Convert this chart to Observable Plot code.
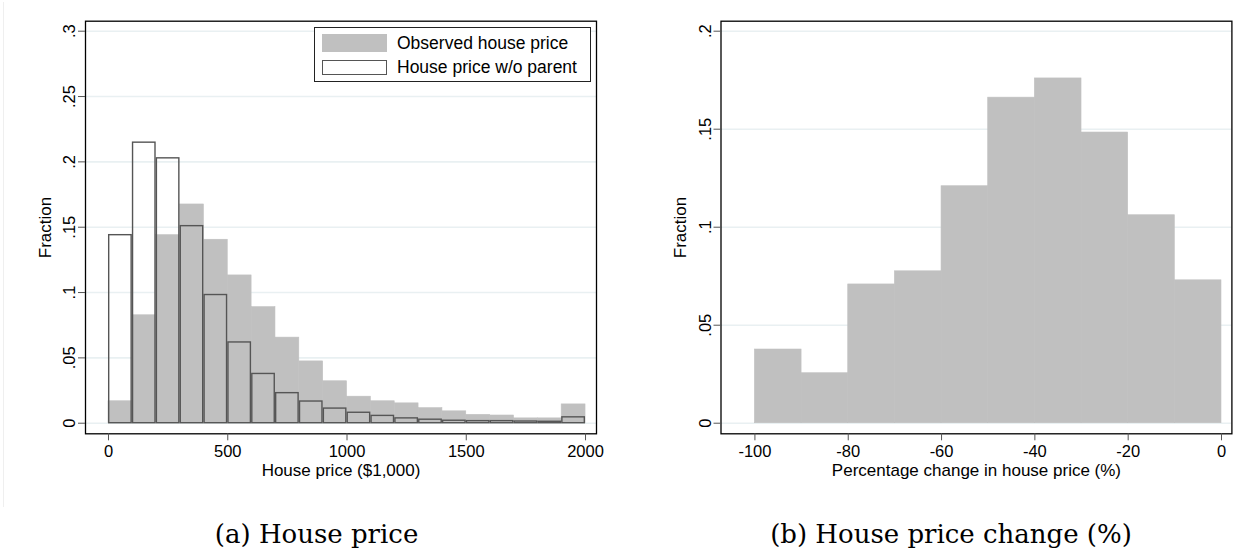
<!DOCTYPE html>
<html>
<head>
<meta charset="utf-8">
<script src="https://cdn.jsdelivr.net/npm/d3@7"></script>
<script src="https://cdn.jsdelivr.net/npm/@observablehq/plot@0.6"></script>
<style>
  html, body { margin: 0; padding: 0; background: #fff; }
  #root { position: relative; width: 1257px; height: 548px; overflow: hidden; background: #fff; }
  .panel { position: absolute; top: 0; }
  .legend { position: absolute; box-sizing: border-box; border: 1.2px solid #222; background: #fff;
            font-family: "Liberation Sans", Arial, sans-serif; font-size: 17.5px; color: #000; }
  .legend .sw { position: absolute; box-sizing: border-box; }
  .legend .lab { position: absolute; white-space: nowrap; line-height: 20px; }
  .caption { position: absolute; font-family: "DejaVu Serif", "Liberation Serif", serif; font-size: 26px;
             color: #000; white-space: nowrap; transform: translateX(-50%); line-height: 30px; }
  .edge { position: absolute; left: 3px; top: 2px; width: 1px; height: 505px; background: #efefef; }
</style>
</head>
<body>
<div id="root"></div>
<script>
// ---------- Panel (a): house price histograms ----------
const priceBinEdges = [0, 100, 200, 300, 400, 500, 600, 700, 800, 900, 1000,
                       1100, 1200, 1300, 1400, 1500, 1600, 1700, 1800, 1900, 2000];
const observedFraction = [0.0168, 0.0826, 0.1439, 0.1674, 0.1404, 0.1131, 0.0888, 0.0655, 0.0473, 0.0321,
                          0.0203, 0.0168, 0.0152, 0.0115, 0.0091, 0.0064, 0.0059, 0.0037, 0.0037, 0.0144];
const noParentFraction = [0.1439, 0.2147, 0.2027, 0.1508, 0.0981, 0.0618, 0.0377, 0.0230, 0.0166, 0.0112,
                          0.0080, 0.0056, 0.0037, 0.0027, 0.0019, 0.0016, 0.0016, 0.0013, 0.0011, 0.0045];
const priceXTicks = [0, 500, 1000, 1500, 2000];
const priceXTickLabels = ["0", "500", "1000", "1500", "2000"];
const priceYTicks = [0, 0.05, 0.1, 0.15, 0.2, 0.25, 0.3];
const priceYTickLabels = ["0", ".05", ".1", ".15", ".2", ".25", ".3"];
const priceXTitle = "House price ($1,000)";
const legendLabels = ["Observed house price", "House price w/o parent"];
const captionA = "(a) House price";

// ---------- Panel (b): house price change histogram ----------
const changeBinEdges = [-100, -90, -80, -70, -60, -50, -40, -30, -20, -10, 0];
const changeFraction = [0.0376, 0.0255, 0.0708, 0.0775, 0.1209, 0.1661, 0.1759, 0.1483, 0.1061, 0.0729];
const changeXTicks = [-100, -80, -60, -40, -20, 0];
const changeXTickLabels = ["-100", "-80", "-60", "-40", "-20", "0"];
const changeYTicks = [0, 0.05, 0.1, 0.15, 0.2];
const changeYTickLabels = ["0", ".05", ".1", ".15", ".2"];
const changeXTitle = "Percentage change in house price (%)";
const yTitle = "Fraction";
const captionB = "(b) House price change (%)";

// ---------- styling ----------
const barGray = "#c0c0c0";
const outlineGray = "#555555";
const gridColor = "#e9f0f2";
const tickColor = "#555555";
const fontFamily = "'Liberation Sans', Arial, Helvetica, sans-serif";

function bins(edges, values) {
  return values.map((v, i) => ({lo: edges[i], hi: edges[i + 1], v}));
}
function labelMap(ticks, labels) {
  const m = new Map(ticks.map((t, i) => [t, labels[i]]));
  return d => m.get(d);
}

function panel({width, marginLeft, marginRight, xDomain, yDomain, xTicks, xLabels, yTicks, yLabels, xTitle, layers}) {
  return Plot.plot({
    width, height: 490,
    marginLeft, marginRight, marginTop: 20.7, marginBottom: 56.7,
    x: {domain: xDomain},
    y: {domain: yDomain},
    style: {fontFamily, fontSize: "16.5px", color: "#000", background: "transparent", overflow: "visible"},
    marks: [
      Plot.ruleY(yTicks, {y: d => d, stroke: gridColor, strokeWidth: 1.6}),
      ...layers,
      Plot.frame({stroke: "#000", strokeWidth: 1.3}),
      Plot.axisX({ticks: xTicks, tickFormat: labelMap(xTicks, xLabels), tickSize: 7, tickPadding: 4.5,
                  stroke: tickColor, fill: "#000", label: null, fontSize: "16.5px"}),
      Plot.axisY({ticks: yTicks, tickFormat: labelMap(yTicks, yLabels), tickSize: 7, tickPadding: 3.5,
                  tickRotate: -90, stroke: tickColor, fill: "#000", label: null, fontSize: "16.5px"}),
      Plot.text([yTitle], {text: d => d, frameAnchor: "left", rotate: -90, dx: -40.3,
                           textAnchor: "middle", lineAnchor: "middle", fontSize: "17px", fill: "#000"}),
      Plot.text([xTitle], {text: d => d, frameAnchor: "bottom", dy: 37,
                           textAnchor: "middle", lineAnchor: "middle", fontSize: "17px", fill: "#000"})
    ]
  });
}

const root = document.getElementById("root");

const edge = document.createElement("div");
edge.className = "edge";
root.appendChild(edge);

const chartA = panel({
  width: 628, marginLeft: 85, marginRight: 32,
  xDomain: [-96.4, 2046], yDomain: [-0.0081, 0.30765],
  xTicks: priceXTicks, xLabels: priceXTickLabels, yTicks: priceYTicks, yLabels: priceYTickLabels,
  xTitle: priceXTitle,
  layers: [
    Plot.rectY(bins(priceBinEdges, observedFraction), {x1: "lo", x2: "hi", y: "v", fill: barGray,
      stroke: barGray, strokeWidth: 0.6}),
    Plot.rectY(bins(priceBinEdges, noParentFraction), {x1: "lo", x2: "hi", y: "v", fill: "none",
      stroke: outlineGray, strokeWidth: 1.4, insetLeft: 0.7, insetRight: 0.7})
  ]
});
const wrapA = document.createElement("div");
wrapA.className = "panel"; wrapA.style.left = "0px";
wrapA.appendChild(chartA);
root.appendChild(wrapA);

const chartB = panel({
  width: 629, marginLeft: 92.5, marginRight: 25.6,
  xDomain: [-107.27, 2.23], yDomain: [-0.0054, 0.2051],
  xTicks: changeXTicks, xLabels: changeXTickLabels, yTicks: changeYTicks, yLabels: changeYTickLabels,
  xTitle: changeXTitle,
  layers: [
    Plot.rectY(bins(changeBinEdges, changeFraction), {x1: "lo", x2: "hi", y: "v", fill: barGray,
      stroke: barGray, strokeWidth: 0.6})
  ]
});
const wrapB = document.createElement("div");
wrapB.className = "panel"; wrapB.style.left = "628px";
wrapB.appendChild(chartB);
root.appendChild(wrapB);

// ---------- legend (panel a) ----------
const legend = document.createElement("div");
legend.className = "legend";
Object.assign(legend.style, {left: "314px", top: "26.5px", width: "276.5px", height: "55.5px"});
const swatches = [
  {top: 6.5, h: 17.5, bg: barGray, border: "none"},
  {top: 32, h: 15.5, bg: "#fff", border: "1.4px solid " + outlineGray}
];
swatches.forEach((s, i) => {
  const sw = document.createElement("div");
  sw.className = "sw";
  Object.assign(sw.style, {left: "6.5px", top: s.top + "px", width: "65px", height: s.h + "px",
                           background: s.bg, border: s.border});
  legend.appendChild(sw);
  const lab = document.createElement("div");
  lab.className = "lab";
  lab.textContent = legendLabels[i];
  Object.assign(lab.style, {left: "82px", top: (i === 0 ? 5.5 : 29.5) + "px"});
  legend.appendChild(lab);
});
root.appendChild(legend);

// ---------- captions ----------
[[captionA, 316.6], [captionB, 951]].forEach(([t, cx]) => {
  const c = document.createElement("div");
  c.className = "caption";
  c.textContent = t;
  Object.assign(c.style, {left: cx + "px", top: "519px"});
  root.appendChild(c);
});
</script>
</body>
</html>
